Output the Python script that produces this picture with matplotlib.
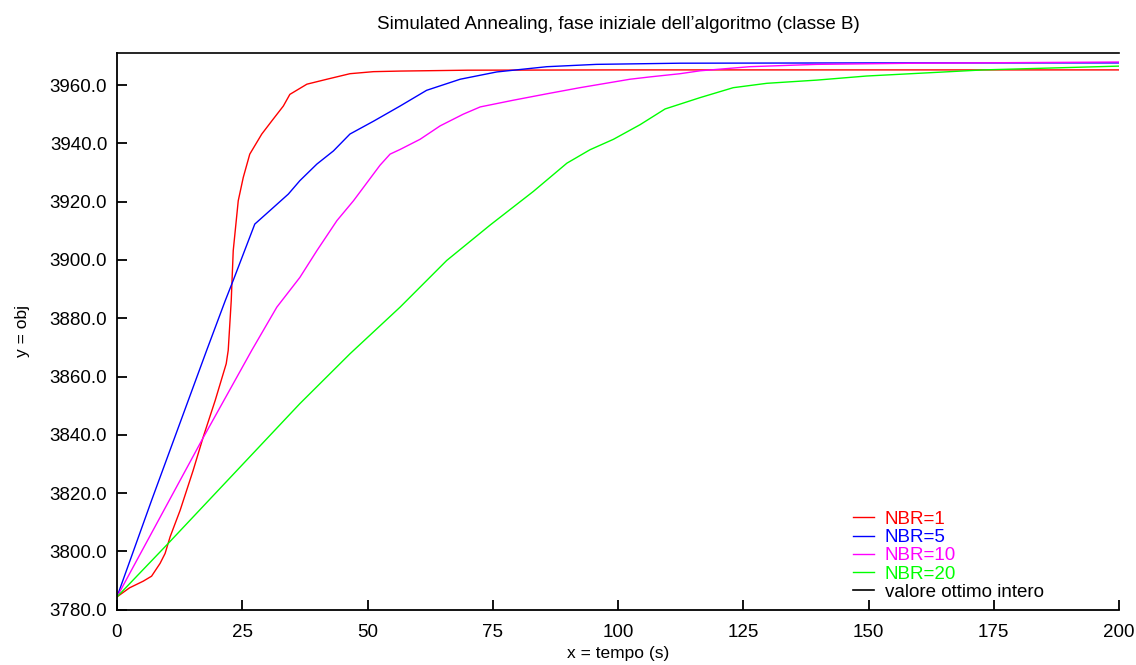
import matplotlib
matplotlib.use("Agg")
import matplotlib.pyplot as plt

plt.rcParams['font.family'] = ['Liberation Sans', 'DejaVu Sans']

# NBR=1
x1 = [0, 2.5, 5.25, 6.9, 8.6, 9.6, 10.6, 12.6, 15.2, 17.2, 19.6, 21.8, 22.2, 22.8, 23.2, 24.2, 25.2, 26.5,
      28.9, 30.9, 33.2, 34.5, 37.9, 41.9, 46.5, 51.2, 56.5, 70, 100, 150, 200]
y1 = [3784.4, 3787.5, 3789.8, 3791.5, 3795.9, 3799.3, 3805.0, 3814.1, 3827.8, 3839.2, 3851.8, 3864.4, 3869.0,
      3886.0, 3903.2, 3920.3, 3928.3, 3936.3, 3943.2, 3947.7, 3952.8, 3956.8, 3960.3, 3962.0, 3963.9,
      3964.6, 3964.8, 3965.1, 3965.2, 3965.2, 3965.2]

# NBR=5
x5 = [0, 6.9, 17.9, 21.6, 23.2, 27.5, 30.5, 34.2, 36.5, 39.9, 43.2, 46.5, 51.2, 56.5, 61.8, 68.5,
      75.8, 85.8, 95.7, 112.4, 150, 200]
y5 = [3784.4, 3817.5, 3869.0, 3886.0, 3893.0, 3912.3, 3916.9, 3922.6, 3927.2, 3932.9, 3937.4, 3943.2,
      3947.6, 3952.8, 3958.2, 3962.0, 3964.5, 3966.3, 3967.1, 3967.5, 3967.6, 3967.6]

# NBR=10
x10 = [0, 17.2, 26.9, 31.9, 36.5, 39.9, 43.9, 47.2, 52.5, 54.5, 56.5, 60.5, 64.5, 69.1, 72.5, 79.1,
       85.8, 92.4, 102.4, 106.4, 112.4, 116.4, 126.3, 139.7, 159.6, 200]
y10 = [3784.4, 3839.0, 3869.0, 3883.8, 3894.0, 3903.2, 3913.5, 3920.3, 3932.5, 3936.3, 3937.9, 3941.4,
       3946.0, 3950.0, 3952.5, 3954.8, 3957.0, 3959.1, 3962.0, 3962.8, 3963.9, 3964.9, 3966.3, 3967.1,
       3967.5, 3967.9]

# NBR=20
x20 = [0, 10.2, 36.5, 46.5, 56.5, 65.8, 74.5, 83.1, 89.8, 94.4, 99.1, 104.4, 109.4, 116.4, 123.0,
       129.7, 139.7, 149.6, 166.3, 172.9, 200]
y20 = [3784.4, 3802.7, 3850.7, 3867.8, 3883.8, 3899.8, 3912.0, 3923.5, 3933.2, 3937.8, 3941.4, 3946.4,
       3951.8, 3955.7, 3959.1, 3960.6, 3961.7, 3963.1, 3964.6, 3965.2, 3966.5]

optimum = 3971.0

labels = ['NBR=1', 'NBR=5', 'NBR=10', 'NBR=20', 'valore ottimo intero']
colors = ['#ff0000', '#0000ff', '#ff00ff', '#00ff00', '#000000']

fig = plt.figure(figsize=(11.36, 6.65), dpi=100)
ax = fig.add_axes([117/1136, 1 - 609.7/665, (1119-117)/1136, (609.7-53)/665])

ax.plot(x1, y1, color=colors[0], lw=1.0, label=labels[0])
ax.plot(x5, y5, color=colors[1], lw=1.0, label=labels[1])
ax.plot(x10, y10, color=colors[2], lw=1.0, label=labels[2])
ax.plot(x20, y20, color=colors[3], lw=1.0, label=labels[3])
ax.plot([0, 200], [optimum, optimum], color=colors[4], lw=1.2, label=labels[4], clip_on=False)

ax.set_xlim(0, 200)
ax.set_ylim(3780, optimum)
ax.set_xticks([0, 25, 50, 75, 100, 125, 150, 175, 200])
yt = [3780, 3800, 3820, 3840, 3860, 3880, 3900, 3920, 3940, 3960]
ax.set_yticks(yt)
ax.set_yticklabels([f"{v:.1f}" for v in yt])

for s in ['top', 'right']:
    ax.spines[s].set_visible(False)
for s in ['left', 'bottom']:
    ax.spines[s].set_linewidth(1.3)
ax.tick_params(direction='in', length=7, width=1.3, labelsize=13.5, top=False, right=False)
ax.tick_params(axis='y', pad=7)
ax.tick_params(axis='x', pad=10)

ax.set_title("Simulated Annealing, fase iniziale dell\u2019algoritmo (classe B)", fontsize=13.5, pad=17)
ax.set_xlabel("x = tempo (s)", fontsize=12.5, labelpad=4)
ax.set_ylabel("y = obj", fontsize=12.5, labelpad=14)

leg = ax.legend(loc='lower left', bbox_to_anchor=(853/1136, (665-601)/665), bbox_transform=fig.transFigure,
                frameon=False, fontsize=13.5, handlelength=1.1, handletextpad=0.6, labelspacing=0.06,
                borderpad=0, borderaxespad=0, labelcolor='linecolor')

fig.savefig("out.png", dpi=100)
